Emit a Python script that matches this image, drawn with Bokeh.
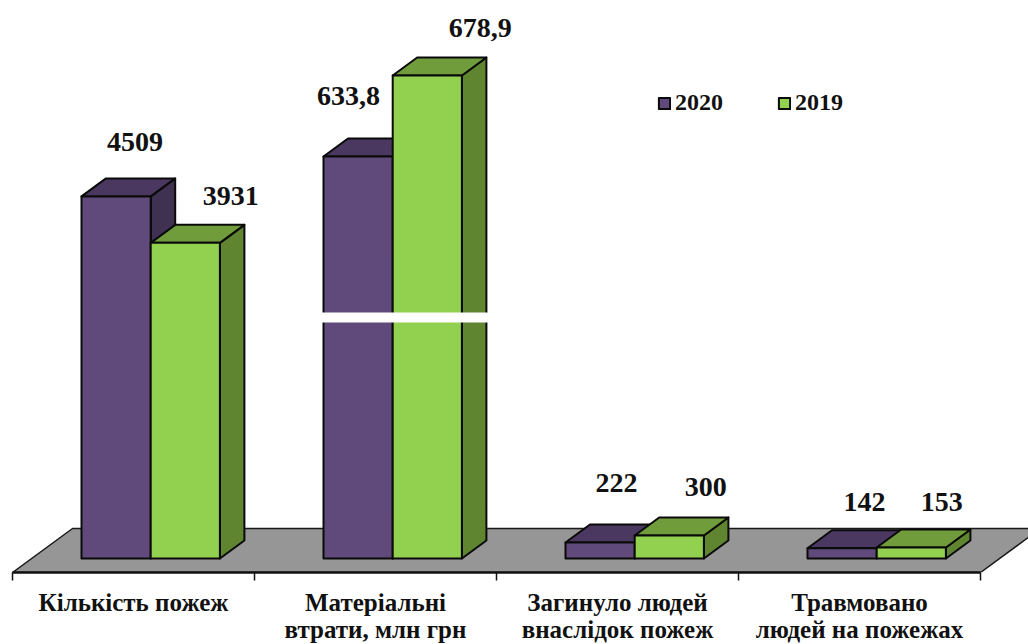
from bokeh.embed import file_html
from bokeh.resources import INLINE
from bokeh.plotting import figure
from bokeh.models import Range1d, LinearAxis, FixedTicker, Legend, LegendItem
from bokeh.core.properties import value

categories = ["Кількість пожеж", "Матеріальні\nвтрати, млн грн",
              "Загинуло людей\nвнаслідок пожеж", "Травмовано\nлюдей на пожежах"]
series_names = ["2020", "2019"]
labels_2020 = ["4509", "633,8", "222", "142"]
labels_2019 = ["3931", "678,9", "300", "153"]
# drawn heights (the second group stands on a broken scale)
heights_2020 = [4509, 5006, 199, 128]
heights_2019 = [3931, 6015, 286, 137]
axis_break = [2939, 3064]

FONT = "Liberation Serif"
PPU = 0.0803          # pixels per value unit
CAT_PX = 242.0        # pixels per category
X0_PX = 12.0          # frame left edge -> first tick
W, H = 1028, 644
FRAME_H = 572
BASE_PX = 14          # base of bars above axis line
DX = 24.5 / CAT_PX    # depth, x
DY = 18 / PPU         # depth, y
GAP = 69.0 / CAT_PX
BAR = 69.2 / CAT_PX

p = figure(width=W, height=H, output_backend="svg", toolbar_location=None,
           x_axis_type=None, y_axis_type=None,
           x_range=Range1d(-X0_PX / CAT_PX, (W - X0_PX) / CAT_PX),
           y_range=Range1d(-BASE_PX / PPU, (FRAME_H - BASE_PX) / PPU),
           min_border=0, min_border_left=0, min_border_right=0, min_border_top=0, min_border_bottom=0,
           outline_line_color=None, background_fill_color="white")
p.frame_height = FRAME_H
p.frame_width = W
p.grid.visible = False

# floor
fl_dx = 60 / CAT_PX
fl_y0 = -BASE_PX / PPU
fl_y1 = 30 / PPU
p.patch([0, fl_dx, 4 + fl_dx, 4], [fl_y0, fl_y1, fl_y1, fl_y0],
        fill_color="#969696", line_color="#1a1a1a", line_width=1.5)

PURPLE = dict(front="#604A7B", top="#4A3860", side="#3F3151")
GREEN = dict(front="#92D050", top="#709C3C", side="#5F8530")
OUT = dict(line_color="#0a0a0a", line_width=2, line_join="round")


def bar(left, h, c):
    right = left + BAR
    p.patch([right, right + DX, right + DX, right], [0, DY, h + DY, h], fill_color=c["side"], **OUT)
    p.patch([left, left + DX, right + DX, right], [h, h + DY, h + DY, h], fill_color=c["top"], **OUT)
    return p.quad(left=[left], right=[right], bottom=[0], top=[h], fill_color=c["front"], **OUT)


r2020 = r2019 = None
for i in range(len(categories)):
    left = i + GAP
    r2020 = bar(left, heights_2020[i], PURPLE)
    r2019 = bar(left + BAR, heights_2019[i], GREEN)

# axis break in the second group
p.quad(left=[1 + GAP - 2 / CAT_PX], right=[1 + GAP + 2 * BAR + DX + 2 / CAT_PX],
       bottom=[axis_break[0]], top=[axis_break[1]], fill_color="white", line_color=None)

# value labels: pixel offsets from each bar's front-top centre
off_2020 = [(19, 54), (-9.5, 61), (16.5, 60), (22.5, 46)]
off_2019 = [(45.5, 47), (53, 47), (36.5, 49), (30.5, 45)]
tx, ty, tt = [], [], []
for i in range(len(categories)):
    for k, (lab, h, off) in enumerate([(labels_2020[i], heights_2020[i], off_2020[i]),
                                       (labels_2019[i], heights_2019[i], off_2019[i])]):
        tx.append(i + GAP + BAR * (k + 0.5) + off[0] / CAT_PX)
        ty.append(h + off[1] / PPU)
        tt.append(lab)
p.text(tx, ty, text=tt, text_font=value(FONT), text_font_style="bold", text_font_size="28px",
       text_color="#111111", text_align="center", text_baseline="middle")

# category axis: labels at group centres, tick marks between groups
ax = LinearAxis(ticker=FixedTicker(ticks=[i + 0.5 for i in range(4)], minor_ticks=list(range(5))),
                bounds=(0, 4),
                major_label_overrides={i + 0.5: c for i, c in enumerate(categories)},
                major_tick_out=0, major_tick_in=0, minor_tick_out=8, minor_tick_in=0,
                minor_tick_line_color="#111111", minor_tick_line_width=1.5,
                axis_line_color="#111111", axis_line_width=2.5,
                major_label_standoff=8, major_label_orientation="horizontal",
                major_label_text_font=FONT, major_label_text_font_style="bold",
                major_label_text_font_size="25px", major_label_text_color="#111111",
                major_label_text_line_height=1.0)
p.add_layout(ax, "below")

legend = Legend(items=[LegendItem(label=series_names[0], renderers=[r2020]),
                       LegendItem(label=series_names[1], renderers=[r2019])],
                orientation="horizontal", location=(657, 456),
                glyph_width=14, glyph_height=14, label_standoff=4, spacing=54,
                padding=0, margin=0, border_line_color=None, background_fill_alpha=0,
                label_text_font=FONT, label_text_font_style="bold", label_text_font_size="24px",
                label_text_color="#111111")
p.add_layout(legend, "center")

open("out.html", "w").write(file_html(p, INLINE))
